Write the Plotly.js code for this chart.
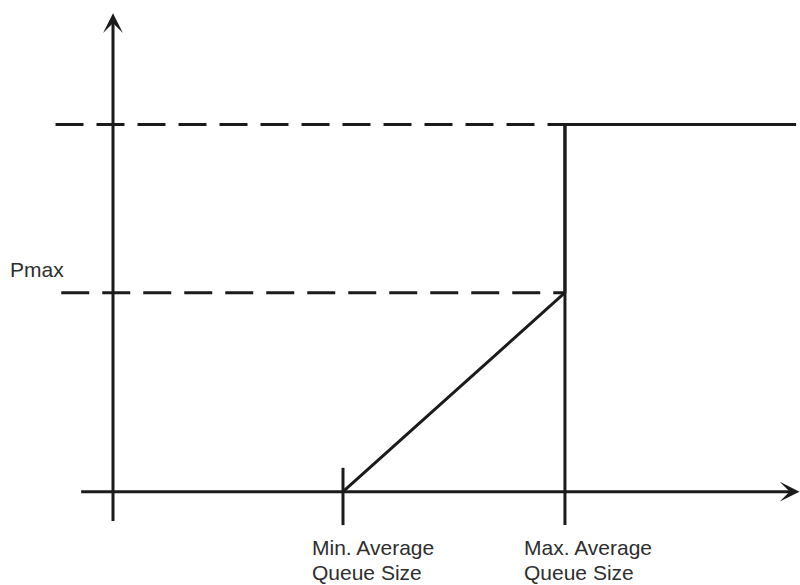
<!DOCTYPE html>
<html>
<head>
<meta charset="utf-8">
<script src="https://cdn.plot.ly/plotly-3.0.1.min.js"></script>
<style>html,body{margin:0;padding:0;background:#fff;}#chart{width:800px;height:585px;}</style>
</head>
<body>
<div id="chart"></div>
<script>
// Drop probability vs. average queue size (RED profile)
const minTh = 20;          // Min. Average Queue Size
const maxTh = 39.3;        // Max. Average Queue Size
const pMax = 0.542;        // Pmax
const pFull = 1.0;         // probability 1
const xAxisEnds = [-2.9, 59.7];
const yAxisEnds = [-0.084, 1.303];
const tickEnds = [-0.091, 0.065];
const dashStartTop = -5.0;
const dashStartPmax = -4.5;
const profileX = [minTh, maxTh, maxTh, 59.4];
const profileY = [0, pMax, pFull, pFull];
const labelLine1 = ['Min. Average', 'Max. Average'];
const labelLine2 = ['Queue Size', 'Queue Size'];
const pLabel = 'Pmax';

const ink = '#1b1b1b';
const solid = {color: ink, width: 3};
const dashed = {color: ink, width: 3, dash: '28px,13px'};
const textFont = {family: 'Liberation Sans, Arial, sans-serif', size: 21, color: '#2e2e2e'};

const traces = [
  {x: [dashStartTop, maxTh], y: [pFull, pFull], mode: 'lines', line: dashed},
  {x: [dashStartPmax, maxTh], y: [pMax, pMax], mode: 'lines', line: dashed},
  {x: [minTh, minTh], y: tickEnds, mode: 'lines', line: solid},
  {x: [maxTh, maxTh], y: [tickEnds[0], pFull], mode: 'lines', line: solid},
  {x: profileX, y: profileY, mode: 'lines', line: solid}
];

const annotations = [
  {x: xAxisEnds[1], y: 0, ax: xAxisEnds[0], ay: 0, xref: 'x', yref: 'y', axref: 'x', ayref: 'y',
   showarrow: true, arrowhead: 3, arrowsize: 1.1, arrowwidth: 3, arrowcolor: ink, text: ''},
  {x: 0, y: yAxisEnds[1], ax: 0, ay: yAxisEnds[0], xref: 'x', yref: 'y', axref: 'x', ayref: 'y',
   showarrow: true, arrowhead: 3, arrowsize: 1.1, arrowwidth: 3, arrowcolor: ink, text: ''},
  {x: 0.01, xref: 'paper', y: pMax, yref: 'y', yshift: 23, xanchor: 'left', yanchor: 'middle',
   text: pLabel, showarrow: false, font: textFont}
];
const thresholds = [minTh, maxTh];
const xShifts = [-33, -43];
thresholds.forEach((t, i) => {
  annotations.push({x: t, xref: 'x', y: 0, yref: 'y', xshift: xShifts[i], yshift: -56,
    xanchor: 'left', yanchor: 'middle', align: 'left', text: labelLine1[i], showarrow: false, font: textFont});
  annotations.push({x: t, xref: 'x', y: 0, yref: 'y', xshift: xShifts[i], yshift: -81,
    xanchor: 'left', yanchor: 'middle', align: 'left', text: labelLine2[i], showarrow: false, font: textFont});
});

const layout = {
  width: 800, height: 585,
  margin: {l: 0, r: 0, t: 0, b: 0},
  paper_bgcolor: '#fff', plot_bgcolor: '#fff',
  showlegend: false,
  xaxis: {range: [-9.826, 59.739], visible: false, fixedrange: true},
  yaxis: {range: [-0.2541, 1.3390], visible: false, fixedrange: true},
  annotations: annotations
};

Plotly.newPlot('chart', traces, layout, {staticPlot: true});
</script>
</body>
</html>
